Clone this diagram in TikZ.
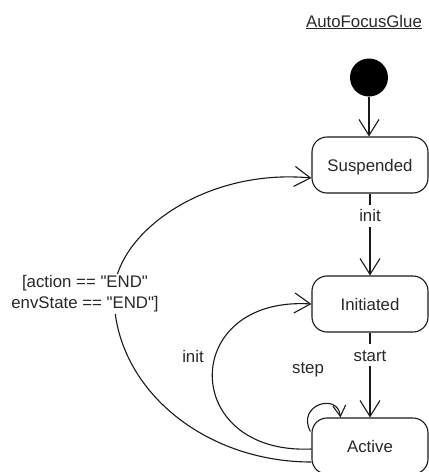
\documentclass[tikz,border=0pt]{standalone}
\usepackage{fontspec}
\setmainfont{Liberation Sans}[Ligatures=TeXOff]
\usetikzlibrary{arrows.meta,calc}
\definecolor{ink}{RGB}{25,25,25}
\definecolor{txt}{RGB}{40,40,40}
\begin{document}
\begin{tikzpicture}[x=1pt,y=-1pt,
  every node/.style={font=\fontsize{16.8}{21}\selectfont, text=txt},
  state/.style={draw=ink, line width=1.1pt, rounded corners=15pt,
    minimum width=116pt, minimum height=56pt, inner sep=0pt,
    text height=12pt, text depth=0pt, fill=white},
  trans/.style={draw=ink, line width=1.1pt,
    -{Straight Barb[length=16pt,width=20pt,line width=1.1pt]}},
  smalltip/.style={-{Straight Barb[length=11pt,width=13pt,line width=1.1pt]}},
  lbl/.style={fill=white, inner sep=5pt, text height=12pt, text depth=0pt},
  initial/.style={circle, fill=black, draw=none, minimum size=38pt, inner sep=0pt}
]
\useasboundingbox (0,0) rectangle (429,472);

% title
\node (title) at (364,22) {\underline{AutoFocusGlue}};

% states
\node[initial] (start) at (369,77.5) {};
\node[state] (sus) at (370,165) {Suspended};
\node[state] (ini) at (370,304) {Initiated};
\node[state] (act) at (370,446) {Active};

% straight transitions
\draw[trans] (start) -- (start |- sus.north);
\draw[trans] (sus) -- node[lbl, pos=0.27] {init} (ini);
\draw[trans] (ini) -- node[lbl, pos=0.27] {start} (act);

% self loop on Active
\draw[trans, smalltip] ($(act.north west)+(-1,14)$)
  .. controls (296,405) and (338,392) .. ($(act.north west)+(29,0)$);
\node (steplbl) at (308,370) {step};

% Active back to Initiated
\draw[trans] ($(act.west)+(0,3)$) .. controls +(-132,6) and +(-132,-8) .. (ini.west);
\node (initlbl) at (193,356) {init};

% Active back to Suspended, around the guard
\coordinate (bend) at (114,295);
\draw[trans] ($(act.west)+(0,16)$) .. controls +(-109,0) and (114,387) .. (bend)
  .. controls (114,235) and (203,168) .. ($(sus.west)+(0,13)$);
\node[fill=white, align=center, inner sep=2pt] (guard) at (85,294)
  {[action == "END"\\envState == "END"]};
\end{tikzpicture}
\end{document}
